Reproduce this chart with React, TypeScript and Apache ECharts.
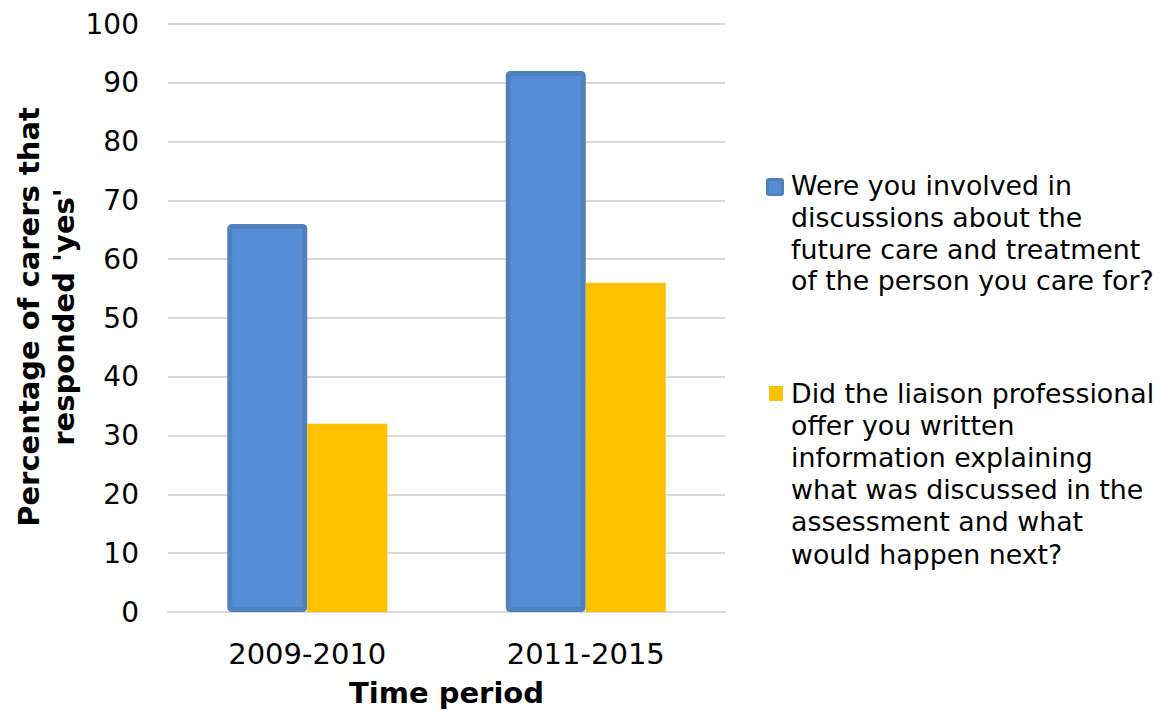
import React, { useEffect, useRef } from "react";
import * as echarts from "echarts";

const categories = ["2009-2010", "2011-2015"];
const involvedValues = [66, 92];
const writtenInfoValues = [32, 56];
const yTicks = { min: 0, max: 100, interval: 10 };
const legend1Lines = [
  "Were you involved in",
  "discussions about the",
  "future care and treatment",
  "of the person you care for?",
];
const legend2Lines = [
  "Did the liaison professional",
  "offer you written",
  "information explaining",
  "what was discussed in the",
  "assessment and what",
  "would happen next?",
];
const yTitle = "Percentage of carers that\nresponded 'yes'";
const xTitle = "Time period";

const FONT = "DejaVu Sans, Verdana, sans-serif";

export default function App() {
  const ref = useRef<HTMLDivElement>(null);
  useEffect(() => {
    if (!ref.current) return;
    const chart = echarts.init(ref.current, undefined, { renderer: "svg" });
    chart.setOption({
      animation: false,
      textStyle: { fontFamily: FONT },
      grid: { left: 168, right: 438, top: 24, bottom: 99, outerBoundsMode: "none", containLabel: false },
      xAxis: {
        type: "category",
        data: categories,
        axisTick: { show: false },
        axisLine: { lineStyle: { color: "#d9d9d9", width: 2 } },
        axisLabel: { color: "#000", fontSize: 29, margin: 27, fontFamily: FONT },
        name: xTitle,
        nameLocation: "middle",
        nameGap: 66,
        nameTextStyle: { color: "#000", fontSize: 29, fontWeight: "bold", fontFamily: FONT },
      },
      yAxis: {
        type: "value",
        min: yTicks.min,
        max: yTicks.max,
        interval: yTicks.interval,
        axisLine: { show: false },
        axisTick: { show: false },
        splitLine: { lineStyle: { color: "#d9d9d9", width: 2 } },
        axisLabel: { color: "#000", fontSize: 28, margin: 29, fontFamily: FONT },
      },
      series: [
        {
          type: "bar",
          data: involvedValues,
          barWidth: 80,
          barGap: "0%",
          itemStyle: {
            color: "#558ed5",
            borderColor: "#4f81bd",
            borderWidth: 5,
            borderRadius: 2,
          },
        },
        {
          type: "bar",
          data: writtenInfoValues,
          barWidth: 80,
          barGap: "0%",
          itemStyle: { color: "#ffc000" },
        },
      ],
      graphic: [
        {
          type: "text",
          x: 46,
          y: 317,
          rotation: Math.PI / 2,
          style: {
            text: yTitle,
            fill: "#000",
            font: `bold 29px ${FONT}`,
            align: "center",
            verticalAlign: "middle",
            lineHeight: 35,
          },
        },
        {
          type: "rect",
          shape: { x: 767.5, y: 179.5, width: 15, height: 15, r: 1.5 },
          style: { fill: "#558ed5", stroke: "#4f81bd", lineWidth: 3 },
        },
        {
          type: "text",
          x: 791,
          y: 170,
          style: {
            text: legend1Lines.join("\n"),
            fill: "#000",
            font: `26.8px ${FONT}`,
            lineHeight: 31.7,
            align: "left",
            verticalAlign: "top",
          },
        },
        {
          type: "rect",
          shape: { x: 769, y: 386, width: 14, height: 15 },
          style: { fill: "#ffc000" },
        },
        {
          type: "text",
          x: 791,
          y: 377,
          style: {
            text: legend2Lines.join("\n"),
            fill: "#000",
            font: `26.8px ${FONT}`,
            lineHeight: 32.2,
            align: "left",
            verticalAlign: "top",
          },
        },
      ],
    });
    return () => chart.dispose();
  }, []);
  return <div ref={ref} style={{ width: 1163, height: 711, position: "absolute", left: 0, top: 0 }} />;
}
